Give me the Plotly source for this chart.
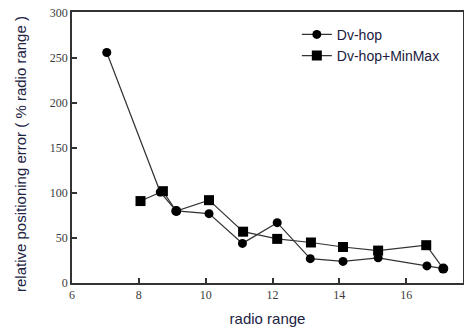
import plotly.graph_objects as go

x_dvhop = [7.04, 8.64, 9.12, 10.1, 11.1, 12.14, 13.13, 14.11, 15.16, 16.62, 17.11]
y_dvhop = [256, 101, 80, 77, 44, 67, 27, 24, 28, 19, 16]
x_minmax = [8.05, 8.72, 9.12, 10.1, 11.12, 12.14, 13.15, 14.11, 15.16, 16.6, 17.11]
y_minmax = [91, 102, 80, 92, 57, 49, 45, 40, 36, 42, 16]
x_ticks = [6, 8, 10, 12, 14, 16, 18]
y_ticks = [0, 50, 100, 150, 200, 250, 300]
y_title = "relative positioning error ( % radio range )"
x_title = "radio range"

# where the two series coincide the reference shows the circle
minmax_symbols = ["square", "square", "circle", "square", "square", "square",
                  "square", "square", "square", "square", "circle"]

fig = go.Figure()
fig.add_trace(go.Scatter(
    x=x_minmax, y=y_minmax, mode="lines+markers", name="Dv-hop+MinMax",
    legendrank=2,
    line=dict(color="#333333", width=1.2),
    marker=dict(symbol=minmax_symbols, size=10, color="black"),
))
fig.add_trace(go.Scatter(
    x=x_dvhop, y=y_dvhop, mode="lines+markers", name="Dv-hop",
    legendrank=1,
    line=dict(color="#333333", width=1.2),
    marker=dict(symbol="circle", size=9, color="black"),
))

axis_common = dict(
    showline=True, linecolor="#333333", linewidth=1.5, mirror=True,
    showgrid=False, zeroline=False, ticks="inside", ticklen=5,
    tickcolor="#333333", tickwidth=1.5, automargin=False,
    tickfont=dict(family="Liberation Serif", size=12, color="#3a3a3a"),
)

fig.update_layout(
    width=464, height=332,
    margin=dict(l=72, r=1, t=12, b=49),
    paper_bgcolor="white", plot_bgcolor="white",
    showlegend=True,
    legend=dict(
        x=0.575, y=0.975, xanchor="left", yanchor="top",
        bgcolor="rgba(0,0,0,0)", borderwidth=0,
        font=dict(family="Liberation Sans", size=14, color="#1a1a40"),
        itemwidth=30,
    ),
    xaxis=dict(
        axis_common, range=[6.0, 17.7], tickvals=x_ticks,
        title=dict(text=x_title, standoff=12,
                   font=dict(family="Liberation Sans", size=15, color="#222244")),
    ),
    yaxis=dict(axis_common, range=[0, 301], tickvals=y_ticks),
    annotations=[dict(
        text=y_title, textangle=-90, showarrow=False,
        xref="paper", yref="paper", x=0, y=0.476, xshift=-52,
        xanchor="center", yanchor="middle",
        font=dict(family="Liberation Sans", size=15, color="#222244"),
    )],
)

fig.write_html(
    "out.html",
    config={"displayModeBar": False},
    post_script="document.body.style.margin='0px';document.body.style.overflow='hidden';",
)
